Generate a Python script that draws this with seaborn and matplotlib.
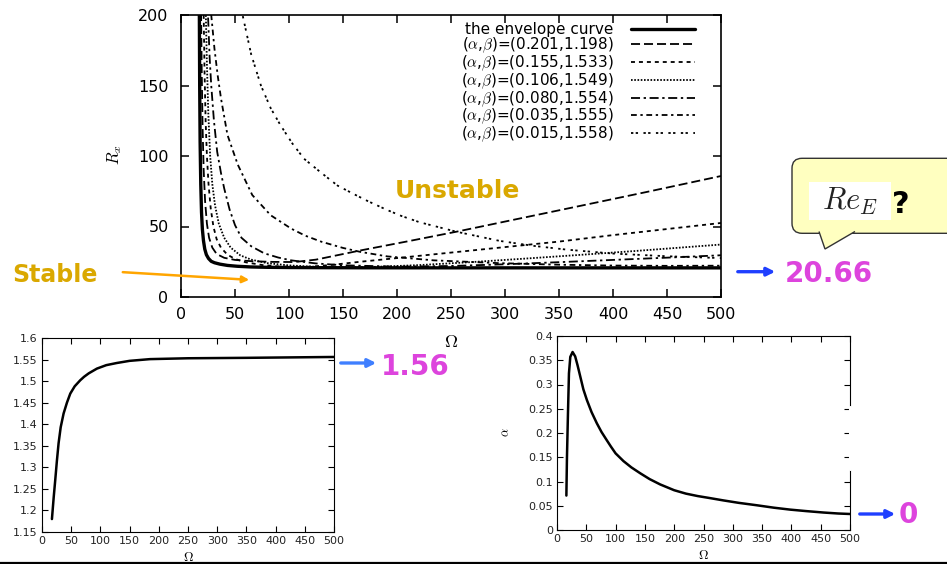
import matplotlib
matplotlib.use("Agg")
import numpy as np
import pandas as pd
import matplotlib.pyplot as plt
import matplotlib.transforms as mtransforms
import seaborn as sns
from matplotlib.patches import FancyBboxPatch, Polygon, Rectangle, FancyArrowPatch
from matplotlib.lines import Line2D

# ---------------- data ----------------
# critical R_x versus Omega: envelope and fixed (alpha, beta) curves
env_om = [16.9, 17.0, 17.3, 17.7, 18.3, 19.0, 19.8, 20.8, 22.0, 23.5, 25.5, 28.0, 31.0, 36.0,
          43.0, 52.0, 65.0, 80.0, 100.0, 130.0, 170.0, 250.0, 350.0, 500.0]
env_rx = [215, 200, 150, 110, 80, 60, 48, 40, 34, 30, 27.3, 25.3, 24.3, 23.3,
          22.4, 21.8, 21.3, 21.05, 20.9, 20.8, 20.72, 20.68, 20.67, 20.66]

c201_om = [18.3, 18.6, 19.2, 20, 21, 22.3, 24, 26, 29, 33, 40, 50, 65, 85, 105, 125, 166,
           210, 255, 300, 357, 430, 500]
c201_rx = [215, 200, 160, 120, 90, 68, 52, 42, 35, 30.5, 27.8, 26.3, 25.4, 24.9, 24.8, 26.5,
           33, 39.5, 46.3, 53.5, 62.6, 74.3, 85.8]

c155_om = [20.5, 21, 21.8, 22.8, 24, 25.5, 27.5, 30, 33, 37, 43, 50, 60, 75, 90, 105, 120,
           140, 166, 200, 250, 300, 350, 400, 450, 500]
c155_rx = [215, 200, 160, 125, 100, 80, 63, 50, 41, 35, 30, 27, 24.6, 22.7, 21.7, 21.3, 21.5,
           22.8, 25, 27.6, 31.5, 35.4, 39.3, 43.9, 48.2, 52.5]

c106_om = [22.5, 23, 24, 25.3, 27, 29, 31.5, 35, 40, 46, 55, 65, 80, 100, 125, 150, 180,
           220, 270, 320, 370, 420, 460, 500]
c106_rx = [215, 200, 165, 130, 100, 80, 65, 52, 42, 35, 29.5, 26.5, 24, 22.4, 21.4, 21.0,
           21.4, 22.6, 24.8, 27.3, 29.9, 32.6, 34.9, 37.2]

c080_om = [24.6, 25, 26.5, 28, 30.5, 33.5, 37, 40, 45, 50, 56, 65, 77, 90, 102, 125, 150,
           200, 250, 300, 350, 400, 450, 500]
c080_rx = [215, 200, 170, 150, 125, 103, 88, 77, 62, 51, 42, 36, 31, 28, 26, 23.8, 22.5,
           21.5, 22, 23.2, 24.7, 26.3, 27.9, 29.6]

c035_om = [27.5, 28, 29.5, 31, 34, 37, 43, 52.5, 66, 83, 102, 115, 130, 150, 166, 191, 234,
           295, 350, 400, 450, 500]
c035_rx = [215, 200, 188, 176, 157, 141, 115, 94, 72.3, 58, 48.5, 43.5, 39.2, 34.8, 32, 28.8,
           26, 24, 22.9, 22.3, 22.1, 22.2]

c015_om = [56, 57, 65, 74, 83, 92, 103, 114, 130, 145, 160, 173, 190, 204, 221, 255, 295, 326,
           357, 400, 450, 500]
c015_rx = [215, 200, 172, 150, 134, 122, 109, 98, 88, 79, 73, 68, 62, 57.5, 53, 46.3, 39.8,
           36.3, 33.6, 30.8, 28.9, 27.6]

curve_labels = ["the envelope curve",
                r"($\alpha$,$\beta$)=(0.201,1.198)",
                r"($\alpha$,$\beta$)=(0.155,1.533)",
                r"($\alpha$,$\beta$)=(0.106,1.549)",
                r"($\alpha$,$\beta$)=(0.080,1.554)",
                r"($\alpha$,$\beta$)=(0.035,1.555)",
                r"($\alpha$,$\beta$)=(0.015,1.558)"]

# optimal beta along the envelope
beta_om = [17, 18.5, 20, 22.7, 25.5, 28.4, 32, 37, 42.7, 48.4, 56, 65.5, 72, 80, 94, 110, 128,
           150, 185, 250, 350, 500]
beta_val = [1.18, 1.205, 1.23, 1.271, 1.315, 1.356, 1.393, 1.425, 1.45, 1.471, 1.488, 1.502,
            1.51, 1.518, 1.529, 1.537, 1.542, 1.547, 1.551, 1.553, 1.554, 1.556]

# optimal alpha along the envelope
alpha_om = [16, 17, 18.7, 20.4, 22.7, 26.6, 31, 35, 40, 45, 51, 59, 68, 76, 85, 92, 100, 113.5,
            127, 142, 158, 176, 200, 220, 240, 260, 284, 310, 341, 370, 398, 425, 455, 480, 500]
alpha_val = [0.071, 0.15, 0.24, 0.323, 0.357, 0.367, 0.358, 0.34, 0.315, 0.29, 0.268, 0.243,
             0.22, 0.202, 0.185, 0.172, 0.158, 0.142, 0.129, 0.117, 0.105, 0.094, 0.082,
             0.075, 0.07, 0.066, 0.061, 0.056, 0.051, 0.046, 0.042, 0.039, 0.036, 0.034, 0.033]

limit_labels = ["20.66", "1.56", "0"]

# ---------------- style ----------------
sns.set_style("ticks")
plt.rcParams["font.family"] = ["DejaVu Sans"]
plt.rcParams["mathtext.fontset"] = "cm"
plt.rcParams.update({"axes.edgecolor": "black", "xtick.color": "black",
                     "ytick.color": "black", "text.color": "black",
                     "axes.labelcolor": "black"})

W, H = 947, 564
fig = plt.figure(figsize=(W / 100, H / 100), dpi=100)
fig.patch.set_facecolor("white")
pix = mtransforms.Affine2D().scale(1 / W, -1 / H).translate(0, 1) + fig.transFigure


def box(l, t, r, b):
    return [l / W, 1 - b / H, (r - l) / W, (b - t) / H]


ax = fig.add_axes(box(181, 15, 721, 297))
axb = fig.add_axes(box(42, 338, 334, 532))
axa = fig.add_axes(box(557, 336, 850, 530))

# ---------------- main panel ----------------
series = [(env_om, env_rx, "-", 2.4),
          (c201_om, c201_rx, (0, (5, 2.2)), 1.3),
          (c155_om, c155_rx, (0, (2.2, 2.2)), 1.3),
          (c106_om, c106_rx, (0, (0.9, 0.9)), 1.3),
          (c080_om, c080_rx, (0, (5, 2, 1.3, 2)), 1.3),
          (c035_om, c035_rx, (0, (3.2, 2, 1.3, 2)), 1.3),
          (c015_om, c015_rx, (0, (1.3, 1.3, 1.3, 3)), 1.3)]
for (om, rx, ls, lw), lab in zip(series, curve_labels):
    df = pd.DataFrame({"Omega": om, "Rx": rx})
    sns.lineplot(data=df, x="Omega", y="Rx", ax=ax, color="black", lw=lw, linestyle=ls,
                 label=lab, legend=False, estimator=None, sort=False)

ax.set_xlim(0, 500)
ax.set_ylim(0, 200)
ax.set_xticks(np.arange(0, 501, 50))
ax.set_yticks(np.arange(0, 201, 50))
ax.tick_params(direction="in", top=True, right=True, length=6, width=1.1, labelsize=11.5)
ax.tick_params(axis="x", pad=7)
ax.tick_params(axis="y", pad=9)
for s in ax.spines.values():
    s.set_linewidth(1.2)
ax.set_xlabel(r"$\Omega$", fontsize=13)
ax.xaxis.set_label_coords(0.5, -0.128)
ax.set_ylabel(r"$R_x$", fontsize=12)
ax.yaxis.set_label_coords(-0.106, 0.5035)

ax.legend(loc="upper right", bbox_to_anchor=(0.952, 0.975), frameon=False,
          markerfirst=False, fontsize=11, handlelength=4.2, handletextpad=1.15,
          labelspacing=-0.1, borderpad=0, borderaxespad=0)

# ---------------- beta panel ----------------
sns.lineplot(x=beta_om, y=beta_val, ax=axb, color="black", lw=1.8, estimator=None, sort=False)
axb.set_xlim(0, 500)
axb.set_ylim(1.15, 1.6)
axb.set_xticks(np.arange(0, 501, 50))
bt = np.round(np.arange(1.15, 1.6001, 0.05), 2)
axb.set_yticks(bt)
axb.set_yticklabels([f"{v:g}" for v in bt])
axb.tick_params(direction="in", top=True, right=True, length=4, width=0.8, labelsize=8,
                pad=3, labelcolor="#222222")
for s in axb.spines.values():
    s.set_linewidth(0.8)
axb.set_xlabel(r"$\Omega$", fontsize=9.5)
axb.xaxis.set_label_coords(0.5, -0.097)
axb.set_ylabel("")

# ---------------- alpha panel ----------------
sns.lineplot(x=alpha_om, y=alpha_val, ax=axa, color="black", lw=1.8, estimator=None, sort=False)
axa.set_xlim(0, 500)
axa.set_ylim(0, 0.4)
axa.set_xticks(np.arange(0, 501, 50))
at = np.round(np.arange(0, 0.4001, 0.05), 2)
axa.set_yticks(at)
axa.set_yticklabels([f"{v:g}" for v in at])
axa.tick_params(direction="in", top=True, right=True, length=4, width=0.8, labelsize=8,
                pad=3, labelcolor="#222222")
for s in axa.spines.values():
    s.set_linewidth(0.8)
axa.set_xlabel(r"$\Omega$", fontsize=9.5)
axa.xaxis.set_label_coords(0.5, -0.097)
axa.set_ylabel(r"$\alpha$", fontsize=9)
axa.yaxis.set_label_coords(-0.154, 0.505)
# break in the right frame line
fig.add_artist(Line2D([850, 850], [406.5, 469], transform=pix, color="white", lw=2.2, zorder=10))

# ---------------- annotations ----------------
gold = "#DAA800"
magenta = "#DD44DD"
fig.text(12, 282, "Stable", transform=pix, color=gold, fontsize=17, fontweight="bold",
         ha="left", va="baseline")
fig.text(457, 198, "Unstable", transform=pix, color=gold, fontsize=18, fontweight="bold",
         ha="center", va="baseline")
fig.add_artist(FancyArrowPatch((120, 272), (252, 280), transform=pix, arrowstyle="-|>",
                               mutation_scale=10, color="#FFA500", lw=1.8))

arrows = [((735, 271.7), (778, 271.7), "#1f3fff"),
          ((338, 363), (379, 363), "#3f7fff"),
          ((857, 514), (898, 514), "#1f3fff")]
for p0, p1, col in arrows:
    fig.add_artist(FancyArrowPatch(p0, p1, transform=pix, arrowstyle="-|>",
                                   mutation_scale=12, color=col, lw=2.4))

text_pos = [(785, 281.7), (381, 375), (899, 523)]
for (x, y), lab in zip(text_pos, limit_labels):
    fig.text(x, y, lab, transform=pix, color=magenta, fontsize=20, fontweight="bold",
             ha="left", va="baseline")

# speech bubble with Re_E ?
bubble = FancyBboxPatch((792, 158.3), 200, 75, boxstyle="round,pad=0,rounding_size=10",
                        transform=pix, fc="#FFFFC0", ec="#333333", lw=1.0)
fig.add_artist(bubble)
tail = Polygon([(819, 231.5), (825, 249), (855, 231.5)], closed=False, transform=pix,
               fc="#FFFFC0", ec="#333333", lw=1.0)
fig.add_artist(tail)
fig.add_artist(Rectangle((809, 182), 82, 38, transform=pix, fc="white", ec="none"))
fig.text(850, 201, r"$Re_E$", transform=pix, color="#222222", fontsize=22,
         ha="center", va="center")
fig.text(892, 213, "?", transform=pix, color="black", fontsize=22, fontweight="bold",
         ha="left", va="baseline")

# rule at the bottom edge
fig.add_artist(Line2D([0, W], [562.5, 562.5], transform=pix, color="black", lw=1.6, zorder=10))

fig.savefig("out.png", dpi=100, facecolor="white")
